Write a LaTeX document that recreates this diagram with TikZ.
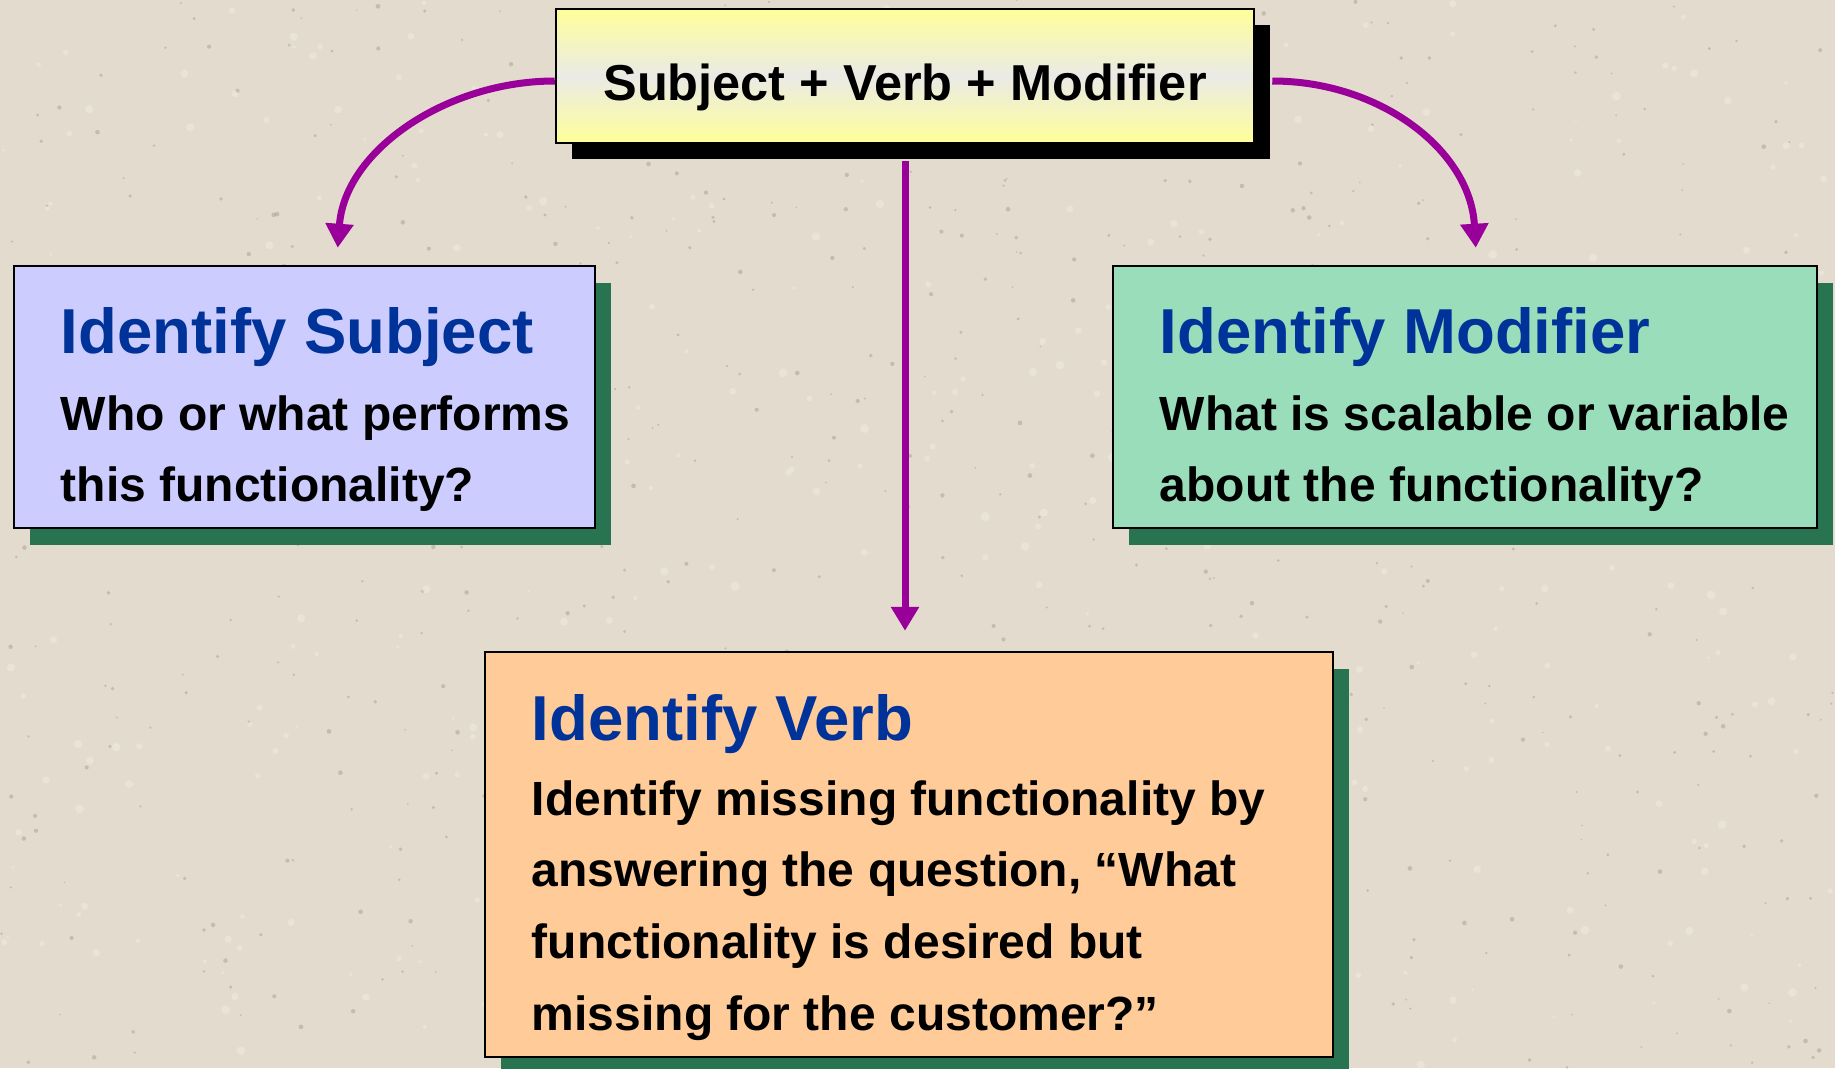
\documentclass[tikz,border=0pt]{standalone}
\usepackage{fontspec}
\setmainfont{Liberation Sans}
\usetikzlibrary{shadows,arrows.meta,calc}

\definecolor{bg}{HTML}{E3DBCE}
\definecolor{speckdark}{HTML}{8E8478}
\definecolor{specklight}{HTML}{F2EEE6}
\definecolor{lav}{HTML}{CCCCFF}
\definecolor{mint}{HTML}{99DDBB}
\definecolor{peach}{HTML}{FFCC99}
\definecolor{pale}{HTML}{FFFF99}
\definecolor{paleg}{HTML}{EAEAE6}
\definecolor{navy}{HTML}{003399}
\definecolor{shadegreen}{HTML}{287350}
\definecolor{violet}{HTML}{990099}

\tikzset{
  card/.style={rectangle, draw=black, line width=2.5pt, inner sep=0pt,
    drop shadow={shadow xshift=16pt, shadow yshift=-17pt, fill=shadegreen, opacity=1}},
  headbox/.style={rectangle, draw=black, line width=2.5pt, inner sep=0pt,
    drop shadow={shadow xshift=16pt, shadow yshift=-16pt, fill=black, opacity=1},
    top color=pale, bottom color=pale, middle color=paleg},
  cardtitle/.style={anchor=base west, inner sep=0pt, text=navy,
    font=\fontsize{63.5}{63.5}\selectfont\bfseries},
  cardbody/.style={anchor=base west, inner sep=0pt,
    font=\fontsize{48}{48}\selectfont\bfseries},
  conn/.style={draw=violet, line width=7pt, -{Triangle[width=27pt,length=24pt]}},
}

\begin{document}
\begin{tikzpicture}[x=1pt, y=-1pt]
  \useasboundingbox (0,0) rectangle (1835,1068);
  % textured paper background
  \fill[bg] (0,0) rectangle (1835,1068);
  \pgfmathsetseed{11}
  \foreach \i in {1,...,650}{
    \pgfmathsetmacro\px{rnd*1835}
    \pgfmathsetmacro\py{rnd*1068}
    \pgfmathsetmacro\rr{0.8+rnd*1.6}
    \fill[speckdark, opacity=0.35] (\px,\py) circle (\rr pt);
  }
  \foreach \i in {1,...,400}{
    \pgfmathsetmacro\px{rnd*1835}
    \pgfmathsetmacro\py{rnd*1068}
    \pgfmathsetmacro\rr{1.5+rnd*3}
    \fill[specklight, opacity=0.45] (\px,\py) circle (\rr pt);
  }

  % boxes
  \node[headbox, minimum width=698pt, minimum height=134pt] (top) at (905,76) {};
  \node[card, fill=lav, minimum width=581pt, minimum height=262pt] (subj) at (304.5,397) {};
  \node[card, fill=mint, minimum width=704pt, minimum height=262pt] (mod) at (1465,397) {};
  \node[card, fill=peach, minimum width=848pt, minimum height=405pt] (verb) at (909,854.5) {};

  % texts
  \node[anchor=base, inner sep=0pt, font=\fontsize{50.5}{50.5}\selectfont\bfseries]
    (toptext) at (905,100) {Subject + Verb + Modifier};

  \node[cardtitle] (subjT) at ($(subj.north west)+(48,89)$) {Identify Subject};
  \node[cardbody] (subjA) at ($(subj.north west)+(48,166)$) {Who or what performs};
  \node[cardbody] (subjB) at ($(subj.north west)+(48,237)$) {this functionality?};

  \node[cardtitle] (modT) at ($(mod.north west)+(48,89)$) {Identify Modifier};
  \node[cardbody] (modA) at ($(mod.north west)+(48,166)$) {What is scalable or variable};
  \node[cardbody] (modB) at ($(mod.north west)+(48,237)$) {about the functionality?};

  \node[cardtitle] (verbT) at ($(verb.north west)+(48,90)$) {Identify Verb};
  \node[cardbody] (verbA) at ($(verb.north west)+(48,165)$) {Identify missing functionality by};
  \node[cardbody] (verbB) at ($(verb.north west)+(48,236)$) {answering the question, “What};
  \node[cardbody] (verbC) at ($(verb.north west)+(48,308)$) {functionality is desired but};
  \node[cardbody] (verbD) at ($(verb.north west)+(48,380)$) {missing for the customer?”};

  % connectors
  \coordinate (ls) at ($(top.west)+(0,5)$);
  \coordinate (lt) at ($(subj.north west)+(325,-17)$);
  \draw[conn] (ls) .. controls (447,81) and (345,150) .. (lt);

  \coordinate (rs) at ($(top.east)+(17,5)$);
  \coordinate (rt) at ($(mod.north west)+(364,-17)$);
  \draw[conn] (rs) .. controls (1380,81) and (1470,150) .. (rt);

  \coordinate (cs) at ($(top.south)+(0,17)$);
  \coordinate (ct) at ($(cs |- verb.north)+(0,-20)$);
  \draw[conn] (cs) -- (ct);
\end{tikzpicture}
\end{document}
